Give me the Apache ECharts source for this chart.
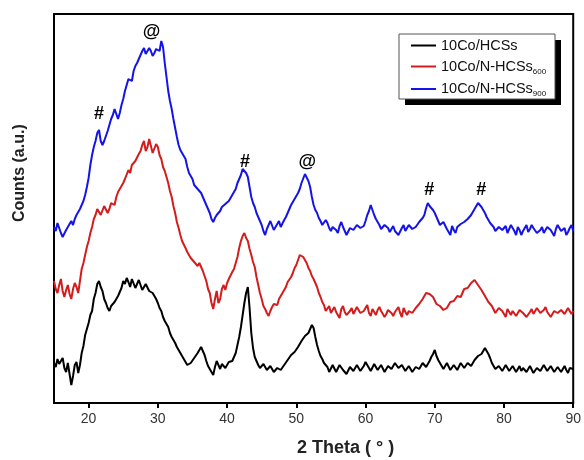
<!DOCTYPE html>
<html>
<head>
<meta charset="utf-8">
<script src="https://cdn.jsdelivr.net/npm/echarts@6/dist/echarts.min.js"></script>
<style>
  html, body { margin: 0; padding: 0; background: #fff; }
  #chart { width: 584px; height: 460px; }
</style>
</head>
<body>
<div id="chart"></div>
<script>
// XRD patterns, 2θ from 15° to 90° every 0.25°, intensity in arbitrary units
const startAngle = 15;
const step = 0.25;

const hcss = [
  40, 36, 44, 39, 42, 45, 35, 31, 40, 29, 18, 27, 38, 41, 30, 38, 50, 57, 68, 74,
  80, 88, 92, 104, 110, 119, 122, 116, 112, 104, 100, 95, 92, 97, 96, 101, 102, 107, 108, 115,
  122, 119, 125, 121, 116, 124, 122, 115, 117, 123, 121, 113, 114, 119, 120, 112, 114, 110, 108, 104,
  100, 95, 92, 86, 82, 80, 76, 70, 66, 63, 60, 56, 54, 50, 47, 44, 42, 38, 36, 40,
  42, 45, 47, 50, 52, 56, 55, 48, 42, 37, 34, 31, 28, 36, 42, 38, 34, 39, 40, 35,
  36, 41, 40, 42, 44, 50, 58, 66, 76, 88, 100, 110, 116, 95, 70, 55, 46, 42, 38, 35,
  34, 39, 38, 33, 32, 37, 36, 31, 30, 35, 36, 33, 34, 38, 40, 43, 45, 48, 50, 51,
  53, 56, 58, 62, 64, 67, 68, 70, 72, 78, 75, 66, 58, 52, 47, 44, 40, 38, 36, 31,
  33, 38, 37, 31, 32, 38, 36, 33, 34, 29, 31, 36, 37, 32, 33, 38, 36, 32, 34, 37,
  41, 38, 36, 32, 33, 39, 38, 33, 34, 38, 37, 31, 32, 37, 38, 34, 35, 40, 39, 35,
  34, 38, 37, 32, 33, 37, 36, 31, 32, 36, 37, 34, 35, 40, 39, 36, 38, 42, 46, 49,
  53, 47, 43, 40, 39, 34, 36, 40, 38, 33, 34, 38, 37, 33, 35, 40, 39, 35, 36, 40,
  38, 37, 40, 43, 42, 47, 46, 49, 51, 55, 53, 49, 45, 40, 37, 34, 33, 37, 36, 32,
  34, 38, 37, 32, 33, 37, 36, 31, 34, 37, 32, 35, 36, 31, 33, 37, 35, 30, 32, 35,
  36, 32, 34, 38, 37, 32, 33, 37, 35, 31, 32, 36, 36, 31, 34, 37, 33, 30, 35, 36,
  34
];

const nhcss600 = [
  122, 114, 110, 118, 124, 112, 106, 113, 118, 109, 104, 114, 120, 116, 110, 122, 134, 140, 148, 156,
  162, 170, 176, 184, 188, 194, 192, 188, 190, 197, 195, 190, 194, 200, 202, 198, 206, 211, 212, 217,
  220, 224, 226, 233, 230, 238, 236, 242, 244, 249, 252, 258, 262, 252, 256, 264, 262, 250, 252, 259,
  256, 248, 244, 236, 232, 226, 220, 212, 206, 197, 190, 181, 175, 168, 162, 160, 155, 151, 150, 145,
  146, 141, 143, 137, 140, 136, 132, 127, 122, 114, 110, 100, 94, 104, 112, 100, 104, 114, 118, 113,
  120, 124, 126, 131, 134, 140, 146, 155, 162, 167, 170, 165, 162, 154, 148, 141, 136, 126, 118, 110,
  104, 97, 94, 90, 87, 92, 96, 99, 100, 98, 104, 107, 110, 113, 116, 121, 122, 126, 130, 135,
  138, 143, 148, 150, 146, 144, 140, 135, 132, 127, 124, 120, 116, 110, 106, 101, 98, 92, 94, 97,
  90, 93, 96, 91, 88, 85, 94, 97, 91, 88, 86, 92, 95, 89, 90, 96, 93, 90, 88, 92,
  95, 98, 90, 87, 94, 91, 88, 93, 96, 92, 91, 86, 89, 93, 95, 90, 87, 91, 93, 96,
  90, 86, 95, 91, 88, 92, 94, 90, 91, 95, 97, 99, 101, 104, 106, 110, 112, 109, 108, 106,
  104, 99, 100, 97, 96, 93, 92, 95, 97, 101, 100, 102, 104, 107, 108, 106, 110, 114, 113, 115,
  116, 120, 118, 123, 121, 118, 116, 113, 110, 107, 104, 101, 99, 97, 95, 90, 92, 95, 96, 92,
  90, 86, 94, 91, 88, 92, 93, 87, 89, 93, 95, 90, 91, 86, 87, 91, 94, 89, 90, 95,
  93, 90, 88, 93, 96, 91, 90, 86, 87, 92, 94, 90, 89, 93, 95, 89, 91, 95, 93, 89,
  92
];

const nhcss900 = [
  176, 172, 180, 175, 170, 166, 168, 173, 176, 179, 182, 178, 184, 188, 190, 194, 196, 202, 208, 216,
  225, 238, 248, 256, 262, 270, 273, 262, 258, 262, 264, 272, 278, 284, 288, 294, 296, 284, 290, 298,
  304, 312, 318, 324, 326, 322, 332, 337, 340, 344, 346, 352, 355, 349, 350, 355, 352, 347, 350, 354,
  356, 352, 362, 356, 340, 326, 312, 302, 294, 284, 275, 266, 258, 253, 250, 247, 244, 236, 230, 228,
  224, 218, 220, 214, 216, 210, 206, 202, 198, 194, 190, 184, 181, 185, 188, 186, 192, 196, 196, 199,
  200, 202, 204, 208, 210, 214, 220, 224, 228, 234, 232, 230, 226, 216, 206, 200, 196, 190, 186, 182,
  178, 172, 168, 174, 176, 182, 180, 173, 174, 179, 182, 176, 178, 183, 186, 190, 194, 198, 200, 204,
  206, 210, 214, 220, 222, 229, 227, 222, 216, 206, 198, 193, 190, 185, 182, 178, 176, 183, 180, 175,
  172, 176, 178, 173, 170, 177, 181, 176, 174, 168, 170, 175, 177, 173, 172, 178, 180, 175, 174, 177,
  182, 188, 192, 198, 196, 188, 184, 181, 178, 174, 173, 178, 180, 175, 171, 174, 177, 172, 174, 168,
  170, 175, 178, 172, 173, 178, 180, 174, 172, 176, 177, 181, 182, 185, 188, 195, 200, 197, 196, 193,
  190, 186, 182, 178, 176, 181, 179, 174, 172, 168, 177, 173, 170, 176, 174, 179, 178, 181, 182, 184,
  186, 188, 190, 194, 195, 200, 198, 196, 194, 190, 186, 183, 180, 178, 176, 172, 172, 176, 178, 173,
  174, 177, 170, 174, 178, 175, 172, 168, 176, 173, 168, 172, 175, 178, 171, 174, 178, 175, 173, 170,
  169, 173, 176, 170, 172, 176, 178, 173, 170, 167, 174, 178, 176, 172, 171, 175, 168, 171, 175, 178,
  172
];

const seriesNames = ['10Co/HCSs', '10Co/N-HCSs600', '10Co/N-HCSs900'];
const seriesColors = ['#000000', '#d41c1c', '#1414e8'];

// peak markers: [2θ, intensity, symbol]
const peakMarks = [
  [21.5, 289, '#'],
  [29.1, 371, '@'],
  [42.6, 241, '#'],
  [51.6, 241, '@'],
  [69.2, 213, '#'],
  [76.7, 213, '#']
];

const xTicks = [20, 30, 40, 50, 60, 70, 80, 90];

const toPairs = arr => arr.map((v, i) => [startAngle + i * step, v]);

const chart = echarts.init(document.getElementById('chart'));
const font = '"Liberation Sans", Arial, sans-serif';

chart.setOption({
  animation: false,
  backgroundColor: '#fff',
  textStyle: { fontFamily: font },
  grid: {
    left: 54, right: 10, top: 14, bottom: 57,
    show: true, borderColor: '#000', borderWidth: 2
  },
  legend: {
    data: seriesNames,
    orient: 'vertical',
    left: 411, top: 38,
    padding: 0,
    icon: 'rect',
    itemWidth: 25, itemHeight: 2, itemGap: 6,
    formatter: name => name.replace(/(600|900)$/, '{sub|$1}'),
    textStyle: {
      fontFamily: font, fontSize: 14.5, color: '#111',
      rich: {
        sub: { fontSize: 8, color: '#111', padding: [10, 0, 0, 0] }
      }
    }
  },
  xAxis: {
    type: 'value',
    min: 15, max: 90, interval: 10,
    axisLine: { lineStyle: { color: '#000', width: 2 } },
    axisTick: { show: true, length: 5, lineStyle: { color: '#000', width: 2 }, customValues: xTicks },
    axisLabel: { color: '#333', fontSize: 14, margin: 9, customValues: xTicks, fontFamily: font },
    splitLine: { show: false }
  },
  yAxis: {
    type: 'value',
    min: 0, max: 389,
    axisLine: { show: true, lineStyle: { color: '#000', width: 2 } },
    axisTick: { show: false },
    axisLabel: { show: false },
    splitLine: { show: false }
  },
  series: [
    {
      name: seriesNames[0], type: 'line', data: toPairs(hcss),
      symbol: 'none', lineStyle: { color: seriesColors[0], width: 2 }, itemStyle: { color: seriesColors[0] }
    },
    {
      name: seriesNames[1], type: 'line', data: toPairs(nhcss600),
      symbol: 'none', lineStyle: { color: seriesColors[1], width: 2 }, itemStyle: { color: seriesColors[1] }
    },
    {
      name: seriesNames[2], type: 'line', data: toPairs(nhcss900),
      symbol: 'none', lineStyle: { color: seriesColors[2], width: 2 }, itemStyle: { color: seriesColors[2] }
    },
    {
      type: 'scatter', data: peakMarks, symbolSize: 1, silent: true,
      itemStyle: { color: 'rgba(0,0,0,0)', opacity: 1 },
      label: {
        show: true, position: 'inside', opacity: 1,
        formatter: p => p.data[2],
        color: '#000', fontSize: 18, fontWeight: 'bold', fontFamily: font,
        textBorderWidth: 0, textBorderColor: 'transparent'
      }
    }
  ],
  graphic: [
    // legend frame with its hard black drop shadow
    { type: 'rect', z: 0, shape: { x: 405, y: 40, width: 156, height: 65 }, style: { fill: '#000' } },
    { type: 'rect', z: 0, shape: { x: 399, y: 34, width: 156, height: 65 }, style: { fill: '#fff', stroke: '#555', lineWidth: 1 } },
    {
      type: 'text', left: 297, top: 439,
      style: { text: '2 Theta ( ° )', font: 'bold 18px ' + font, fill: '#222' }
    },
    {
      type: 'text', x: 12, y: 222, rotation: Math.PI / 2,
      style: { text: 'Counts (a.u.)', font: 'bold 16px ' + font, fill: '#222' }
    }
  ]
});
</script>
</body>
</html>
